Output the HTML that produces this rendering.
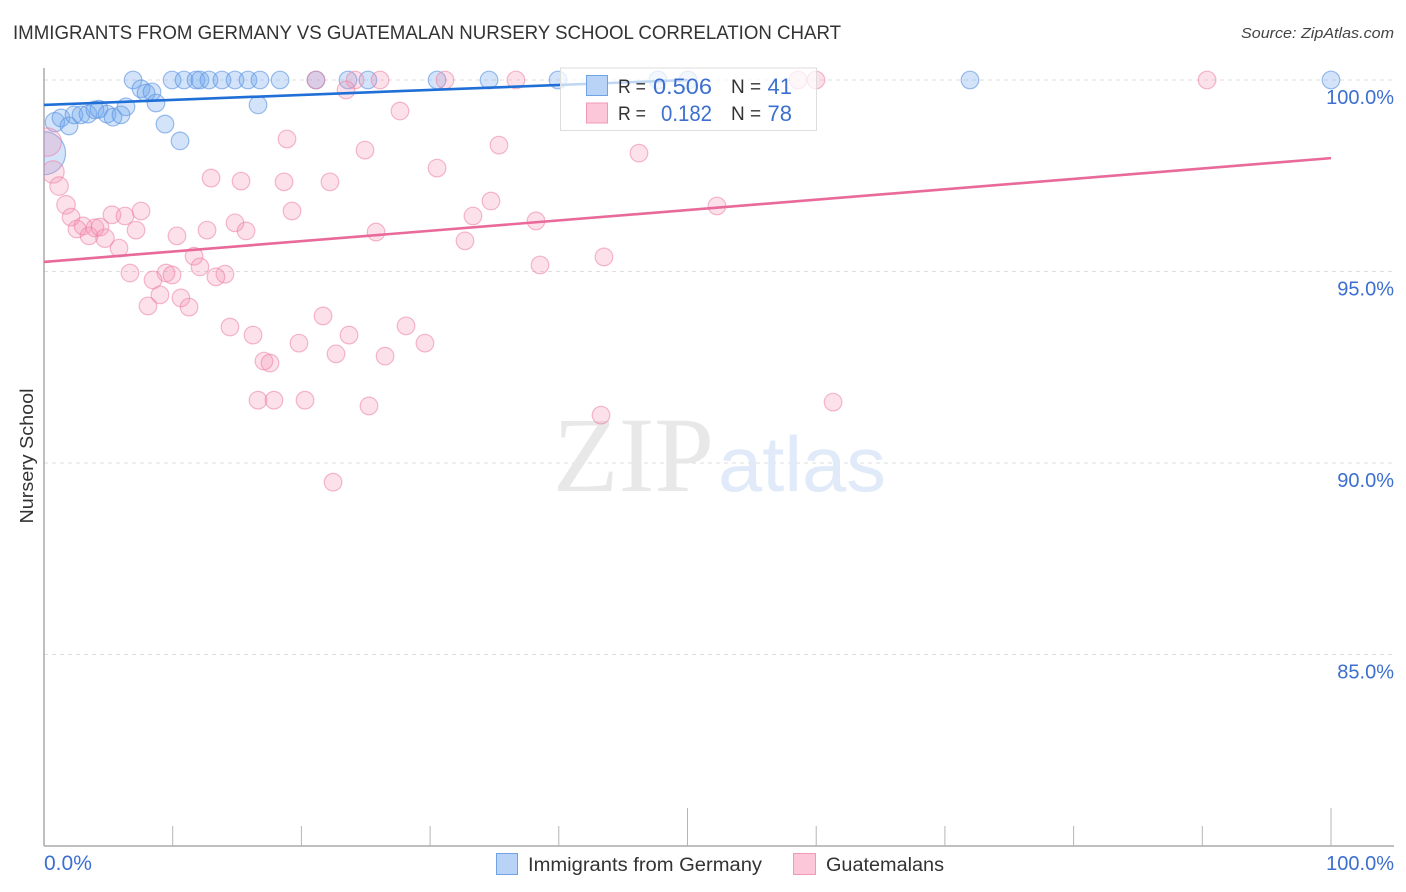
<!DOCTYPE html>
<html lang="en">
<head>
<meta charset="utf-8">
<title>Immigrants from Germany vs Guatemalan Nursery School Correlation Chart</title>
<style>
html,body{margin:0;padding:0;background:#fff;}
body{width:1406px;height:892px;overflow:hidden;}
svg{display:block;font-family:"Liberation Sans",sans-serif;}
</style>
</head>
<body>
<svg id="chart" width="1406" height="892" viewBox="0 0 1406 892" xmlns="http://www.w3.org/2000/svg">
  <defs>
    <clipPath id="plot-clip"><rect x="44" y="60" width="1350" height="786"/></clipPath>
  </defs>
  <rect x="0" y="0" width="1406" height="892" fill="#ffffff"/>
  <text x="13" y="39" font-size="19" fill="#333333" textLength="828" lengthAdjust="spacingAndGlyphs">IMMIGRANTS FROM GERMANY VS GUATEMALAN NURSERY SCHOOL CORRELATION CHART</text>
  <text x="1394" y="38" font-size="15" font-style="italic" fill="#444444" text-anchor="end" textLength="153" lengthAdjust="spacingAndGlyphs">Source: ZipAtlas.com</text>

  <g id="grid"></g>

  <g>
    <text x="553" y="491" font-family="'Liberation Serif',serif" font-size="107" fill="#e8e8e8" textLength="161" lengthAdjust="spacingAndGlyphs">ZIP</text>
    <text x="718" y="491" font-size="78" fill="#e0eaf8" textLength="168" lengthAdjust="spacingAndGlyphs">atlas</text>
  </g>

  <g id="axes"></g>
  <g id="points-blue" clip-path="url(#plot-clip)"></g>
  <g id="points-pink" clip-path="url(#plot-clip)"></g>
  <g id="trends"></g>

  <text transform="translate(33,456) rotate(-90)" font-size="18.5" fill="#333333" text-anchor="middle" textLength="135" lengthAdjust="spacingAndGlyphs">Nursery School</text>
  <g id="tick-labels"></g>

  <g>
    <rect x="560.5" y="68" width="256" height="62.5" fill="#ffffff" fill-opacity="0.72" stroke="#dddddd" stroke-width="1"/>
    <rect x="586.5" y="75.5" width="21" height="20" fill="#b8d3f5" stroke="#6fa3e6" stroke-width="1"/>
    <rect x="586.5" y="103" width="21" height="20" fill="#fcc8d9" stroke="#f19ab8" stroke-width="1"/>
    <text x="618" y="93" font-size="19" fill="#333333" textLength="28" lengthAdjust="spacingAndGlyphs">R =</text>
    <text x="712" y="94" font-size="22" fill="#3c6fd0" text-anchor="end" textLength="59" lengthAdjust="spacingAndGlyphs">0.506</text>
    <text x="731" y="93" font-size="19" fill="#333333">N =</text>
    <text x="792" y="94" font-size="22" fill="#3c6fd0" text-anchor="end">41</text>
    <text x="618" y="120" font-size="19" fill="#333333" textLength="28" lengthAdjust="spacingAndGlyphs">R =</text>
    <text x="712" y="121" font-size="22" fill="#3c6fd0" text-anchor="end" textLength="51" lengthAdjust="spacingAndGlyphs">0.182</text>
    <text x="731" y="120" font-size="19" fill="#333333">N =</text>
    <text x="792" y="121" font-size="22" fill="#3c6fd0" text-anchor="end">78</text>
  </g>

  <g>
    <rect x="496.5" y="853.5" width="21" height="21" fill="#b8d3f5" stroke="#6fa3e6" stroke-width="1"/>
    <text x="528" y="871" font-size="19" fill="#333333" textLength="234" lengthAdjust="spacingAndGlyphs">Immigrants from Germany</text>
    <rect x="793.5" y="853.5" width="22" height="21" fill="#fcc8d9" stroke="#f19ab8" stroke-width="1"/>
    <text x="826" y="871" font-size="19" fill="#333333" textLength="118" lengthAdjust="spacingAndGlyphs">Guatemalans</text>
  </g>
</svg>
<script>
const germanyX = [6.92,9.95,10.88,11.81,12.12,12.82,13.83,14.84,15.85,16.78,18.34,21.13,23.62,25.17,30.54,34.58,39.94,47.71,50.04,71.95,100,
  7.54,7.93,8.39,8.70,9.40,10.57,16.63,6.37,0.85,1.32,1.94,2.33,2.87,3.42,3.96,4.27,4.90,5.36,5.98,0];
const germanyY = [100,100,100,100,100,100,100,100,100,100,100,100,100,100,100,100,100,100,100,100,100,
  99.77,99.66,99.69,99.40,98.85,98.41,99.35,99.30,98.90,99.01,98.80,99.09,99.09,99.11,99.22,99.24,99.11,99.03,99.09,98.09];
const germanyWeight = [1,1,1,1,1,1,1,1,1,1,1,1,1,1,1,1,1,1,1,1,1,
  1,1,1,1,1,1,1,1,1.2,1,1,1,1,1,1,1,1,1,1,6];

const guatemalanX = [21.13,24.17,26.11,31.16,36.67,58.59,59.98,90.37,23.47,
  0.25,0.70,1.17,1.71,2.10,2.56,3.03,3.50,3.96,4.35,4.74,5.83,5.28,6.29,7.54,7.15,
  10.33,12.67,14.84,15.70,19.27,12.98,15.31,18.65,22.22,18.88,11.66,12.12,
  6.68,9.48,9.95,8.47,14.06,13.36,9.01,8.08,10.64,11.27,
  14.45,16.24,17.09,17.56,19.81,21.68,22.69,23.70,26.50,28.13,29.60,
  16.63,17.87,20.28,25.25,22.46,43.28,61.31,
  24.94,27.66,30.54,35.35,46.23,34.73,33.33,38.23,32.71,25.80,38.54,43.51,52.29];
const guatemalanY = [100,100,100,100,100,100,100,100,99.74,
  98.38,97.60,97.23,96.74,96.42,96.11,96.19,95.93,96.14,96.16,95.87,95.61,96.48,96.45,96.58,96.08,
  95.93,96.08,96.27,96.06,96.58,97.44,97.36,97.34,97.34,98.46,95.40,95.12,
  94.96,94.96,94.91,94.78,94.93,94.86,94.39,94.10,94.31,94.07,
  93.55,93.34,92.66,92.61,93.13,93.84,92.85,93.34,92.79,93.58,93.13,
  91.64,91.64,91.64,91.49,89.50,91.25,91.59,
  98.17,99.19,97.70,98.30,98.09,96.84,96.45,96.32,95.80,96.03,95.17,95.38,96.71];
const guatemalanWeight = [1,1,1,1,1,1,1,1,1,
  2.6,1.6,1.1,1.1,1,1,1,1,1,1,1.1,1,1,1,1,1,
  1,1,1,1,1,1,1,1,1,1,1,1,
  1,1,1,1,1,1,1,1,1,1,
  1,1,1,1,1,1,1,1,1,1,1,
  1,1,1,1,1,1,1,
  1,1,1,1,1,1,1,1,1,1,1,1,1];

const germanyTrendX = [0, 50];
const germanyTrendY = [99.35, 100];
const guatemalanTrendX = [0, 100];
const guatemalanTrendY = [95.25, 97.96];

const yTicks = [100, 95, 90, 85];
const yTickLabels = ['100.0%', '95.0%', '90.0%', '85.0%'];
const xTicks = [10, 20, 30, 40, 50, 60, 70, 80, 90, 100];
const xMajorTicks = [50, 100];
const xEdgeTicks = [0, 100];
const xEdgeLabels = ['0.0%', '100.0%'];

const NS = 'http://www.w3.org/2000/svg';
function xScale(v) { return 44 + v * 12.87; }
function yScale(v) { return 80 + (100 - v) * 38.3; }
function make(tag, parentId, attrs) {
  const el = document.createElementNS(NS, tag);
  Object.keys(attrs).forEach(function (k) { el.setAttribute(k, attrs[k]); });
  document.getElementById(parentId).appendChild(el);
  return el;
}

yTicks.forEach(function (t, i) {
  const line = make('line', 'grid', {x1: 44, x2: 1394, y1: yScale(t), y2: yScale(t), stroke: '#dedede', 'stroke-width': 1, 'stroke-dasharray': '4 4'});
  
  
  const label = make('text', 'tick-labels', {x: 1394, y: yScale(t) + 24, 'font-size': 20, fill: '#3c6fd0', 'text-anchor': 'end'});
  label.textContent = yTickLabels[i];
  
  
});

const yAxisLine = make('line', 'axes', {x1: 44, x2: 44, y1: 68, y2: 846, stroke: '#aaaaaa', 'stroke-width': 1.5});


const xAxisLine = make('line', 'axes', {x1: 44, x2: 1394, y1: yScale(80), y2: yScale(80), stroke: '#aaaaaa', 'stroke-width': 1.5});



xTicks.forEach(function (t) {
  const top = xMajorTicks.indexOf(t) >= 0 ? 808 : 826;
  const tick = make('line', 'axes', {x1: xScale(t), x2: xScale(t), y1: top, y2: yScale(80), stroke: '#b5b5b5', 'stroke-width': 1});
  
  
});

xEdgeTicks.forEach(function (t, i) {
  const label = make('text', 'tick-labels', {x: t === 0 ? 44 : 1394, y: 870, 'font-size': t === 0 ? 21 : 20, fill: '#3c6fd0', 'text-anchor': t === 0 ? 'start' : 'end'});
  label.textContent = xEdgeLabels[i];
  
  
});

germanyX.forEach(function (v, i) {
  const c = make('circle', 'points-blue', {cx: xScale(v), cy: yScale(germanyY[i]), r: 8.8 * Math.sqrt(germanyWeight[i]), fill: '#6ea6ee', 'fill-opacity': 0.3, stroke: '#5b93e0', 'stroke-opacity': 0.6, 'stroke-width': 1.2});
  
  
});

guatemalanX.forEach(function (v, i) {
  const c = make('circle', 'points-pink', {cx: xScale(v), cy: yScale(guatemalanY[i]), r: 8.8 * Math.sqrt(guatemalanWeight[i]), fill: '#f590b0', 'fill-opacity': 0.27, stroke: '#ec7fa3', 'stroke-opacity': 0.55, 'stroke-width': 1.2});
  
  
});

const germanyTrend = make('line', 'trends', {x1: xScale(germanyTrendX[0]), y1: yScale(germanyTrendY[0]), x2: xScale(germanyTrendX[1]), y2: yScale(germanyTrendY[1]), stroke: '#1f6fd6', 'stroke-width': 2.6});


const guatemalanTrend = make('line', 'trends', {x1: xScale(guatemalanTrendX[0]), y1: yScale(guatemalanTrendY[0]), x2: xScale(guatemalanTrendX[1]), y2: yScale(guatemalanTrendY[1]), stroke: '#e8699a', 'stroke-width': 2.6});


</script>
</body>
</html>
